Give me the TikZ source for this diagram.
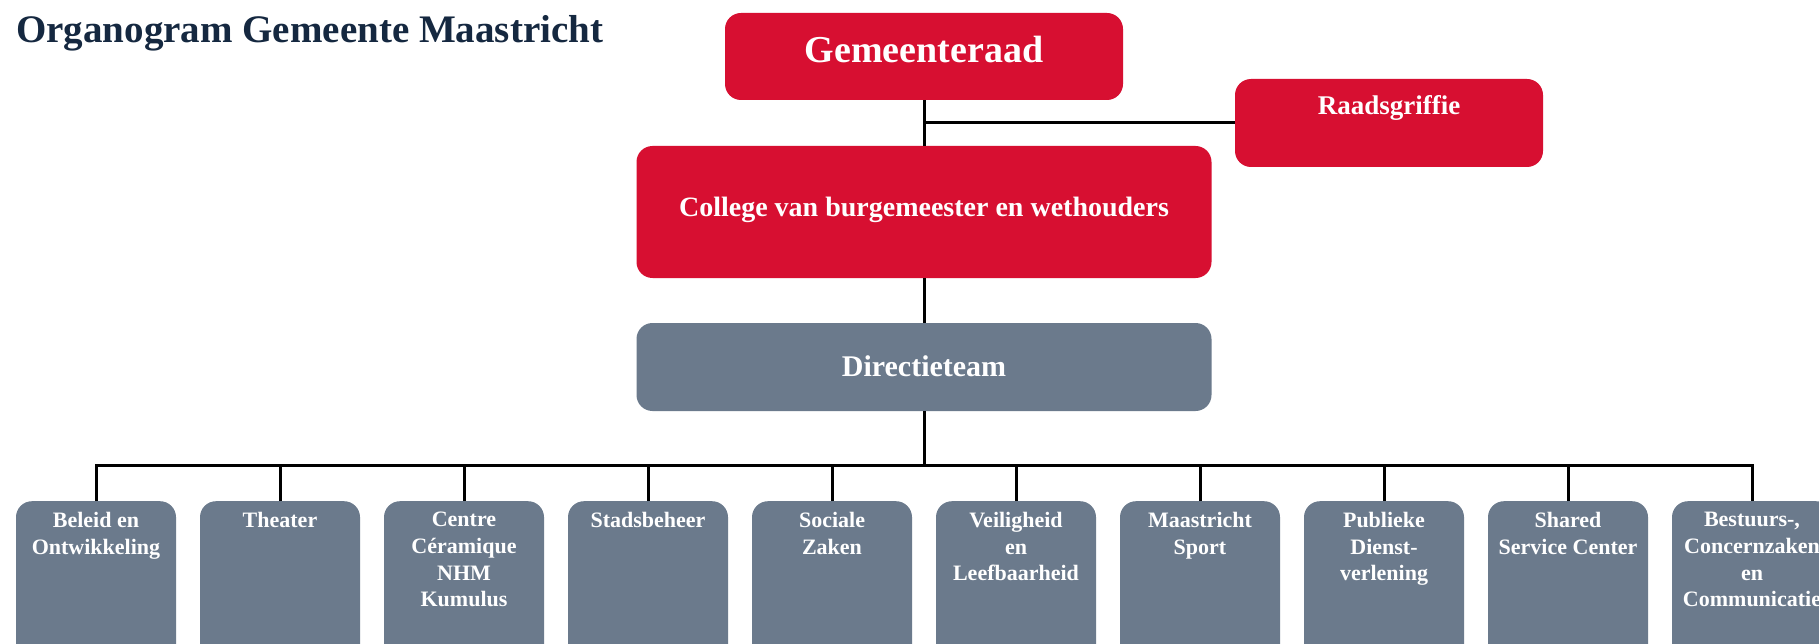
\documentclass[tikz,border=0pt]{standalone}
\usepackage{fontspec}
\setmainfont{Liberation Serif}
\definecolor{mred}{HTML}{D70F31}
\definecolor{mgray}{HTML}{6B7A8C}
\definecolor{mnavy}{HTML}{152840}
\begin{document}
\begin{tikzpicture}[x=1pt,y=-1pt,
  redbox/.style={fill=mred, rounded corners=16pt, inner sep=0pt, text=white, anchor=base},
  graybox/.style={fill=mgray, rounded corners=16pt, inner sep=0pt, text=white},
  unitbox/.style={graybox, minimum width=160pt, minimum height=180pt, anchor=north},
  unitlbl/.style={text=white, inner sep=0pt, align=center, anchor=north, font={\fontsize{22}{26.7}\selectfont\bfseries}},
  link/.style={line width=3pt, draw=black}]

\useasboundingbox (0,0) rectangle (1819,644);
\fill[white] (0,0) rectangle (1819,644);

\node[anchor=base west, inner sep=0pt, text=mnavy, font={\fontsize{39}{45}\selectfont\bfseries}] (title) at (16,43) {Organogram Gemeente Maastricht};

\node[redbox, minimum width=398pt, text height=50pt, text depth=37pt, font={\fontsize{38}{44}\selectfont\bfseries}] (gr) at (924,63) {Gemeenteraad};
\node[redbox, minimum width=308pt, text height=36pt, text depth=52pt, font={\fontsize{27}{32}\selectfont\bfseries}] (rg) at (1389,115) {Raadsgriffie};
\node[redbox, minimum width=575pt, text height=71pt, text depth=61pt, font={\fontsize{28}{33}\selectfont\bfseries}] (col) at (924,217) {College van burgemeester en wethouders};
\node[graybox, anchor=base, minimum width=575pt, text height=53pt, text depth=35pt, font={\fontsize{30}{35}\selectfont\bfseries}] (dt) at (924,376) {Directieteam};

\node[unitbox] (b1) at (96,501) {};
\node[unitbox] (b2) at (280,501) {};
\node[unitbox] (b3) at (464,501) {};
\node[unitbox] (b4) at (648,501) {};
\node[unitbox] (b5) at (832,501) {};
\node[unitbox] (b6) at (1016,501) {};
\node[unitbox] (b7) at (1200,501) {};
\node[unitbox] (b8) at (1384,501) {};
\node[unitbox] (b9) at (1568,501) {};
\node[unitbox] (b10) at (1752,501) {};

\node[unitlbl] (t1) at ([yshift=-11pt]b1.north) {Beleid en\\Ontwikkeling};
\node[unitlbl] (t2) at ([yshift=-11pt]b2.north) {Theater};
\node[unitlbl] (t3) at ([yshift=-11pt]b3.north) {Centre\\Céramique\\NHM\\Kumulus};
\node[unitlbl] (t4) at ([yshift=-11pt]b4.north) {Stadsbeheer};
\node[unitlbl] (t5) at ([yshift=-11pt]b5.north) {Sociale\\Zaken};
\node[unitlbl] (t6) at ([yshift=-11pt]b6.north) {Veiligheid\\en\\Leefbaarheid};
\node[unitlbl] (t7) at ([yshift=-11pt]b7.north) {Maastricht\\Sport};
\node[unitlbl] (t8) at ([yshift=-11pt]b8.north) {Publieke\\Dienst-\\verlening};
\node[unitlbl] (t9) at ([yshift=-11pt]b9.north) {Shared\\Service Center};
\node[unitlbl] (t10) at ([yshift=-11pt]b10.north) {Bestuurs-,\\Concernzaken\\en\\Communicatie};

\draw[link] (gr.south) -- (col.north);
\coordinate (rgj) at (gr.south |- rg.west);
\draw[link] (rgj) -- (rg.west);
\draw[link] (col.south) -- (dt.north);
\coordinate (bus) at (924,465);
\draw[link] (dt.south) -- (bus);
\draw[link] (b1.north) -- (b1.north |- bus) -- (b10.north |- bus) -- (b10.north);
\foreach \i in {2,...,9} \draw[link] (b\i.north) -- (b\i.north |- bus);
\end{tikzpicture}
\end{document}
